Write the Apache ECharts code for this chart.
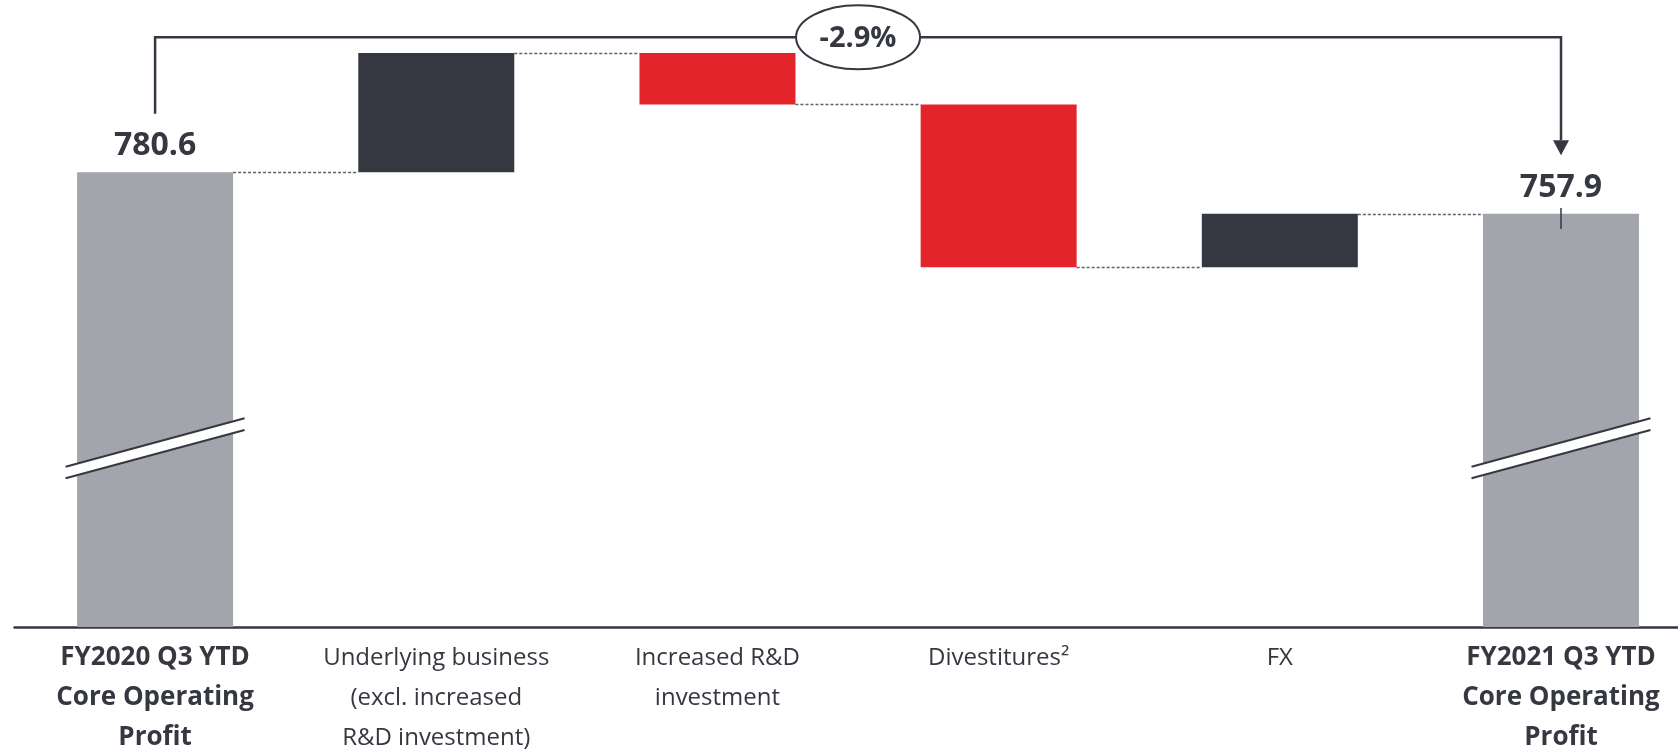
<!DOCTYPE html>
<html>
<head>
<meta charset="utf-8">
<style>
  html, body { margin: 0; padding: 0; background: #ffffff; }
  #chart { width: 1678px; height: 749px; }
</style>
<script src="https://cdn.jsdelivr.net/npm/echarts@6/dist/echarts.min.js"></script>
</head>
<body>
<div id="chart"></div>
<script>
// ---- data ----
const categories = [
  'FY2020 Q3 YTD\nCore Operating\nProfit',
  'Underlying business\n(excl. increased\nR&D investment)',
  'Increased R&D\ninvestment',
  'Divestitures²',
  'FX',
  'FY2021 Q3 YTD\nCore Operating\nProfit'
];
const startValue = 780.6;
const endValue = 757.9;
const changes = [65.6, -28.3, -89.4, 29.4];
const changeLabel = '-2.9%';

// ---- styles ----
const GRAY = '#a3a5ad';
const DARK = '#353841';
const RED = '#e3242b';
const TEXT = '#353841';
const FONT = '"Open Sans", "Noto Sans", sans-serif';
const BAR_W = 156;

// ---- build waterfall series data ----
let running = startValue;
const baseData = ['-'];
const deltaData = ['-'];
const levels = [startValue];
changes.forEach(c => {
  const lo = c >= 0 ? running : running + c;
  baseData.push(+lo.toFixed(2));
  deltaData.push({ value: Math.abs(c), itemStyle: { color: c >= 0 ? DARK : RED } });
  running += c;
  levels.push(+running.toFixed(2));
});
baseData.push('-');
deltaData.push('-');
const totalData = categories.map((_, i) => i === 0 ? startValue : (i === categories.length - 1 ? endValue : '-'));
const peak = Math.max(...levels);
const connectorData = levels.slice(0, categories.length - 1).map((v, i) => [i, v]);
const last = categories.length - 1;

const chart = echarts.init(document.getElementById('chart'));
const option = {
  animation: false,
  backgroundColor: '#ffffff',
  grid: { left: 14.5, right: -23.6, top: 0, bottom: 122, outerBoundsMode: 'none', containLabel: false },
  xAxis: {
    type: 'category',
    data: categories,
    axisTick: { show: false },
    axisLine: { lineStyle: { color: DARK, width: 2.5 } },
    axisLabel: {
      interval: 0,
      margin: 11,
      color: TEXT,
      formatter: (val, idx) => {
        const tag = (idx === 0 || idx === last) ? 'b' : 'r';
        return val.split('\n').map(l => '{' + tag + '|' + l + '}').join('\n');
      },
      rich: {
        b: { fontFamily: FONT, fontWeight: 'bold', fontSize: 26, lineHeight: 40, color: TEXT },
        r: { fontFamily: FONT, fontSize: 24, lineHeight: 40, color: TEXT }
      }
    }
  },
  yAxis: {
    type: 'value',
    min: 530.8,
    max: 875.3,
    show: false,
    splitLine: { show: false }
  },
  series: [
    {
      name: 'total',
      type: 'bar',
      data: totalData,
      barWidth: BAR_W,
      barGap: '-100%',
      itemStyle: { color: GRAY },
      label: {
        show: true,
        position: 'top',
        distance: 10,
        fontFamily: FONT,
        fontWeight: 'bold',
        fontSize: 32,
        lineHeight: 32,
        color: TEXT,
        formatter: p => Number(p.value).toFixed(1)
      }
    },
    {
      name: 'base',
      type: 'bar',
      stack: 'wf',
      data: baseData,
      barWidth: BAR_W,
      barGap: '-100%',
      itemStyle: { color: 'rgba(0,0,0,0)' },
      silent: true
    },
    {
      name: 'delta',
      type: 'bar',
      stack: 'wf',
      data: deltaData,
      barWidth: BAR_W,
      barGap: '-100%'
    },
    {
      name: 'connectors',
      type: 'custom',
      data: connectorData,
      clip: false,
      z: 5,
      renderItem: (params, api) => {
        const i = api.value(0), v = api.value(1);
        const p1 = api.coord([i, v]);
        const p2 = api.coord([i + 1, v]);
        const y = Math.round(p1[1]) + 0.5;
        return {
          type: 'line',
          shape: { x1: p1[0] + BAR_W / 2, y1: y, x2: p2[0] - BAR_W / 2, y2: y },
          style: { stroke: '#5f626a', lineWidth: 1.3, lineDash: [3, 2] }
        };
      }
    },
    {
      name: 'breaks',
      type: 'custom',
      data: [[0, 629], [last, 629]],
      clip: false,
      z: 6,
      renderItem: (params, api) => {
        const c = api.coord([api.value(0), api.value(1)]);
        const hx = 89.5;
        const ul = [c[0] - hx, c[1] + 18.4], ur = [c[0] + hx, c[1] - 30];
        const ll = [c[0] - hx, c[1] + 30], lr = [c[0] + hx, c[1] - 18.3];
        return {
          type: 'group',
          children: [
            { type: 'polygon', shape: { points: [ul, ur, lr, ll] }, style: { fill: '#ffffff' } },
            { type: 'line', shape: { x1: ul[0], y1: ul[1], x2: ur[0], y2: ur[1] }, style: { stroke: DARK, lineWidth: 2 } },
            { type: 'line', shape: { x1: ll[0], y1: ll[1], x2: lr[0], y2: lr[1] }, style: { stroke: DARK, lineWidth: 2 } }
          ]
        };
      }
    },
    {
      name: 'bracket',
      type: 'custom',
      data: [[0, startValue, last, endValue, peak]],
      encode: { x: [0, 2], y: [1, 3, 4] },
      clip: false,
      z: 7,
      renderItem: (params, api) => {
        const a = api.coord([api.value(0), api.value(1)]);
        const b = api.coord([api.value(2), api.value(3)]);
        const top = api.coord([api.value(0), api.value(4)])[1] - 15.7;
        const off = 58.5, ah = 15, aw = 8;
        const cx = (a[0] + b[0]) / 2;
        return {
          type: 'group',
          children: [
            { type: 'polyline', shape: { points: [[a[0], a[1] - off], [a[0], top], [b[0], top], [b[0], b[1] - off - ah]] },
              style: { stroke: DARK, lineWidth: 2.5, fill: null } },
            { type: 'polygon', shape: { points: [[b[0] - aw, b[1] - off - ah], [b[0] + aw, b[1] - off - ah], [b[0], b[1] - off]] },
              style: { fill: DARK } },
            { type: 'ellipse', shape: { cx: cx, cy: top, rx: 62, ry: 32 },
              style: { fill: '#ffffff', stroke: DARK, lineWidth: 2 } },
            { type: 'text', style: { text: changeLabel, x: cx, y: top + 1, align: 'center', verticalAlign: 'middle',
              fontFamily: FONT, fontWeight: 'bold', fontSize: 29, fill: TEXT } },
            { type: 'line', shape: { x1: b[0], y1: b[1] - 5.7, x2: b[0], y2: b[1] + 15.3 },
              style: { stroke: DARK, lineWidth: 1.5 } }
          ]
        };
      }
    }
  ]
};
chart.setOption(option);
</script>
</body>
</html>
